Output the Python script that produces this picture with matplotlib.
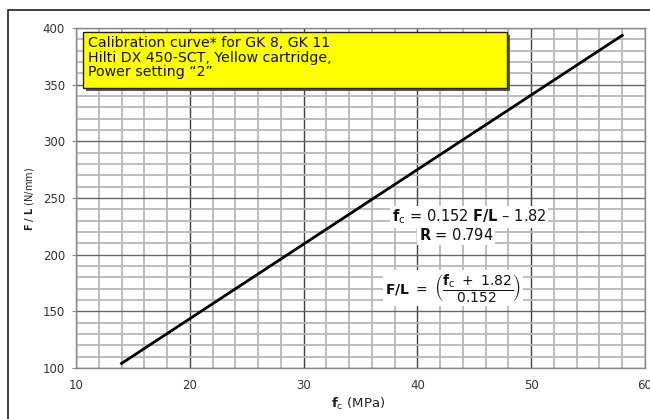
import matplotlib
matplotlib.use("Agg")
import matplotlib.pyplot as plt
from matplotlib.patches import Rectangle
import numpy as np

# Data
fc_vals = [14, 58]
fl_vals = [104.0, 393.5]
x_ticks = [10, 20, 30, 40, 50, 60]
y_ticks = [100, 150, 200, 250, 300, 350, 400]
box_lines = ["Calibration curve* for GK 8, GK 11",
             "Hilti DX 450-SCT, Yellow cartridge,",
             "Power setting \u201c2\u201d"]

plt.rcParams['font.family'] = ['DejaVu Sans']
plt.rcParams['mathtext.fontset'] = 'dejavusans'

W, H = 650, 419
fig = plt.figure(figsize=(6.5, 4.19), dpi=100)

def fx(px):
    return px / W

def fy(py):
    return 1 - py / H

# outer frame
fig.patches.append(Rectangle((fx(8), fy(425)), fx(660) - fx(8), fy(10) - fy(425),
                             transform=fig.transFigure, fill=False,
                             edgecolor='#222222', lw=1.2, clip_on=False))

ax = fig.add_axes([fx(76), fy(368), fx(645) - fx(76), fy(28) - fy(368)])
ax.set_xlim(10, 60)
ax.set_ylim(100, 400)

# grid
for x in np.arange(10, 61, 2):
    major = (x % 10 == 0)
    ax.axvline(x, color='#404040' if major else '#b8b8b8',
               lw=1.0 if major else 1.3, zorder=1)
for y in np.arange(100, 401, 10):
    major = (y % 50 == 0)
    ax.axhline(y, color='#666666' if major else '#b8b8b8',
               lw=1.0 if major else 1.3, zorder=1)

for s in ax.spines.values():
    s.set_color('#888888')
    s.set_linewidth(1.0)

ax.plot(fc_vals, fl_vals, color='black', lw=2.0, zorder=3)

ax.set_xticks(x_ticks)
ax.set_yticks(y_ticks)
ax.set_xticklabels([str(v) for v in x_ticks], fontsize=8.5, color='#333333')
ax.set_yticklabels([str(v) for v in y_ticks], fontsize=8.5, color='#333333')
ax.tick_params(axis='x', length=0, pad=8)
ax.tick_params(axis='y', length=3, color='#888888', pad=5)

fig.text(fx(30), fy(199), r"$\mathbf{F\ /\ L}$ (N/mm)", rotation=90,
         ha='center', va='center', fontsize=7, color='#222222')
fig.text(fx(358), fy(404), r"$\mathbf{f}_{\mathrm{c}}$ (MPa)",
         ha='center', va='center', fontsize=9.5, color='#222222')

# yellow box with shadow
fig.patches.append(Rectangle((fx(86), fy(91)), fx(507) - fx(83), fy(32) - fy(88),
                             transform=fig.transFigure, facecolor='#555555',
                             edgecolor='none', zorder=4))
fig.patches.append(Rectangle((fx(83), fy(88)), fx(507) - fx(83), fy(32) - fy(88),
                             transform=fig.transFigure, facecolor='#ffff00',
                             edgecolor='#222222', lw=1.0, zorder=5))
for i, yy in enumerate([43, 58, 72]):
    fig.text(fx(88), fy(yy), box_lines[i], ha='left', va='center',
             fontsize=10.2, color='#111111', zorder=6)

bb = dict(facecolor='white', edgecolor='none', pad=1.5)
fig.text(fx(469), fy(217), "$\\mathbf{f}_{\\mathrm{c}}$ = 0.152 $\\mathbf{F/L}$ \u2013 1.82",
         ha='center', va='center', fontsize=10.5, color='#111111', bbox=bb, zorder=6)
fig.text(fx(456), fy(235), r"$\mathbf{R}$ = 0.794",
         ha='center', va='center', fontsize=10.5, color='#111111', bbox=bb, zorder=6)
fig.text(fx(453), fy(288),
         r"$\mathbf{F/L}\ =\ \left(\dfrac{\mathbf{f}_{\mathrm{c}}\ +\ 1.82}{0.152}\right)$",
         ha='center', va='center', fontsize=10, color='#111111', bbox=bb, zorder=6)

fig.savefig("out.png", dpi=100)
